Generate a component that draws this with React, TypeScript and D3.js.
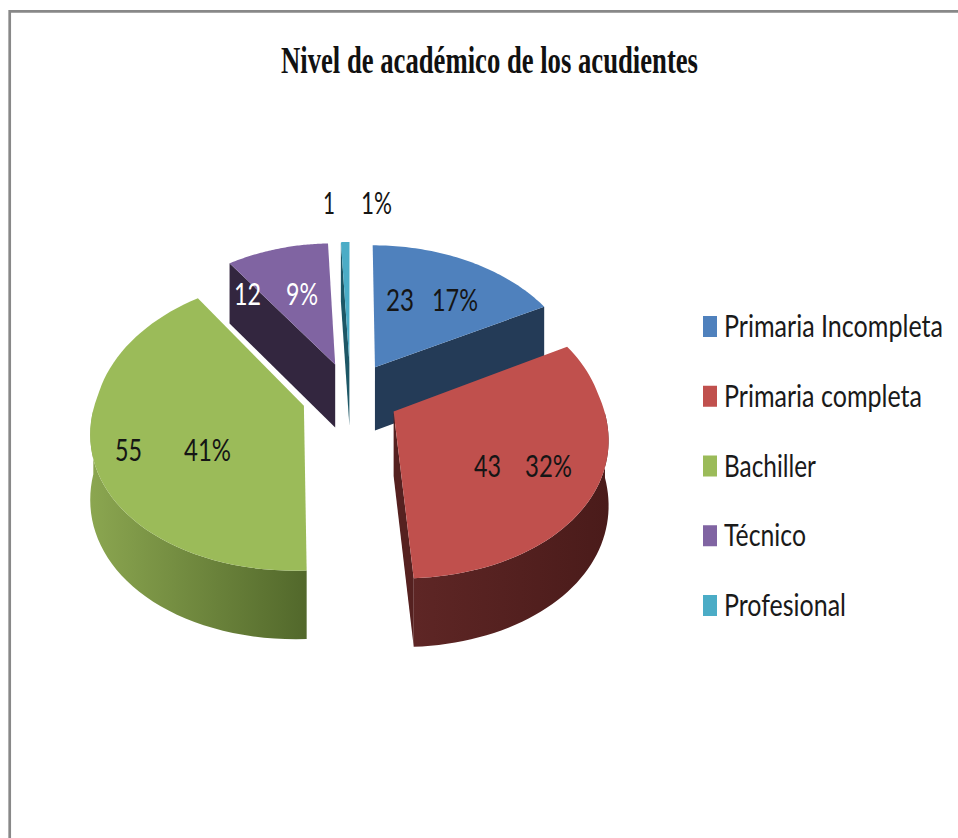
import React from "react";
import * as d3 from "d3";

const categories = ["Primaria Incompleta", "Primaria completa", "Bachiller", "Técnico", "Profesional"];
const counts = [23, 43, 55, 12, 1];
const percents = ["17%", "32%", "41%", "9%", "1%"];
const titleText = "Nivel de académico de los acudientes";

const topColors = ["#4F81BD", "#C0504D", "#9BBB59", "#8064A2", "#4BACC6"];
const faceColors = ["#243B57", "#552120", "#4F6329", "#33263F", "#1D5766"];
const wallStops = [
  ["#243B57", "#243B57"],
  ["#5E2625", "#4A1B1A"],
  ["#8BA650", "#52682B"],
  ["#33263F", "#33263F"],
  ["#1D5766", "#1D5766"],
];
const labelLight = [false, false, false, true, false];

// layout of text (x of count, x of percent, baseline, widths)
const labelLayout = [
  { cx: 386, cw: 28, px: 432, pw: 46, y: 311 },
  { cx: 474, cw: 27, px: 525, pw: 47, y: 477 },
  { cx: 115, cw: 27, px: 184, pw: 47, y: 461 },
  { cx: 234, cw: 27, px: 286, pw: 32, y: 305 },
  { cx: 323, cw: 12, px: 361, pw: 31, y: 214 },
];
const legendWidths = [219, 198, 92, 82, 122];

const W = 958, H = 838;
const CX = 350.5, CY = 388, R = 207, A = 141.4, EXPLODE = 0.235, DEPTH = 64;
const MID_SAG = 7;
const TEXT_STRETCH = 1.3;

type P = [number, number];
const project = (u: number, v: number, drop = 0): P => {
  const fx = 1 + (v > 0 ? 0.105 : 0.159) * v;
  const fy = 1 + (v > 0 ? 0.159 : 0.15) * v;
  const depth = drop * DEPTH / (1 + 0.06 * v);
  const sag = MID_SAG * Math.max(0, 1 - (v * v) / 1.44);
  return [CX + (R * u) / fx, CY - (A * v) / fy + sag + depth];
};

const arcs = d3.pie<number>().sort(null).startAngle(0).endAngle(2 * Math.PI)(counts);
const line = d3.line<P>();

function sliceGeometry(i: number) {
  const a = arcs[i];
  const mid = (a.startAngle + a.endAngle) / 2;
  const ou = EXPLODE * Math.sin(mid);
  const ov = EXPLODE * Math.cos(mid);
  const thetas = d3.range(0, 61).map((k) => a.startAngle + ((a.endAngle - a.startAngle) * k) / 60);
  const rim = (t: number, d: number) => project(ou + Math.sin(t), ov + Math.cos(t), d);
  const apex = (d: number) => project(ou, ov, d);
  const top = [apex(0), ...thetas.map((t) => rim(t, 0))];
  const front = thetas.filter((t) => Math.cos(t) < 0);
  const wall = front.length
    ? [...front.map((t) => rim(t, 0)), ...front.slice().reverse().map((t) => rim(t, 1))]
    : null;
  const startFace = Math.sin(a.startAngle) < -1e-6
    ? [apex(0), rim(a.startAngle, 0), rim(a.startAngle, 1), apex(1)]
    : null;
  const endFace = Math.sin(a.endAngle) > 1e-6
    ? [apex(0), rim(a.endAngle, 0), rim(a.endAngle, 1), apex(1)]
    : null;
  return { top, wall, startFace, endFace };
}

const drawOrder = [4, 3, 0, 2, 1];
const legendY = d3.scaleLinear().domain([0, 4]).range([337, 616]);

const labelFont = "Lato, 'Open Sans', sans-serif";

function Stretched(props: { x: number; y: number; width: number; fill: string; children: React.ReactNode }) {
  return (
    <g transform={`translate(${props.x},${props.y}) scale(1,${TEXT_STRETCH})`}>
      <text
        x={0}
        y={0}
        textLength={props.width}
        lengthAdjust="spacingAndGlyphs"
        fontFamily={labelFont}
        fontSize={23}
        fill={props.fill}
      >
        {props.children}
      </text>
    </g>
  );
}

export default function App() {
  return (
    <svg
      width={W}
      height={H}
      viewBox={`0 0 ${W} ${H}`}
      style={{ position: "fixed", left: 0, top: 0, background: "#fff" }}
    >
      <defs>
        {wallStops.map((s, i) => (
          <linearGradient key={i} id={`wall${i}`} x1="0" x2="1" y1="0" y2="0">
            <stop offset="0" stopColor={s[0]} />
            <stop offset="1" stopColor={s[1]} />
          </linearGradient>
        ))}
      </defs>
      <path d="M9.7 838V11.3H958" fill="none" stroke="#888" strokeWidth={2.7} />
      <text
        x={281}
        y={73}
        textLength={417}
        lengthAdjust="spacingAndGlyphs"
        fontFamily="'Liberation Serif', serif"
        fontWeight="bold"
        fontSize={37}
        fill="#111"
      >
        {titleText}
      </text>

      {drawOrder.map((i) => {
        const g = sliceGeometry(i);
        return (
          <g key={i}>
            {g.startFace && <path d={line(g.startFace)!} fill={faceColors[i]} />}
            {g.endFace && <path d={line(g.endFace)!} fill={faceColors[i]} />}
            {g.wall && <path d={line(g.wall)!} fill={`url(#wall${i})`} />}
            <path d={line(g.top)!} fill={topColors[i]} />
          </g>
        );
      })}

      {counts.map((c, i) => {
        const l = labelLayout[i];
        const fill = labelLight[i] ? "#fff" : "#151515";
        return (
          <g key={i}>
            <Stretched x={l.cx} y={l.y} width={l.cw} fill={fill}>{c}</Stretched>
            <Stretched x={l.px} y={l.y} width={l.pw} fill={fill}>{percents[i]}</Stretched>
          </g>
        );
      })}

      {categories.map((c, i) => (
        <g key={c}>
          <rect x={703} y={legendY(i) - 21} width={14} height={21} fill={topColors[i]} />
          <Stretched x={724} y={legendY(i)} width={legendWidths[i]} fill="#1a1a1a">{c}</Stretched>
        </g>
      ))}
    </svg>
  );
}
